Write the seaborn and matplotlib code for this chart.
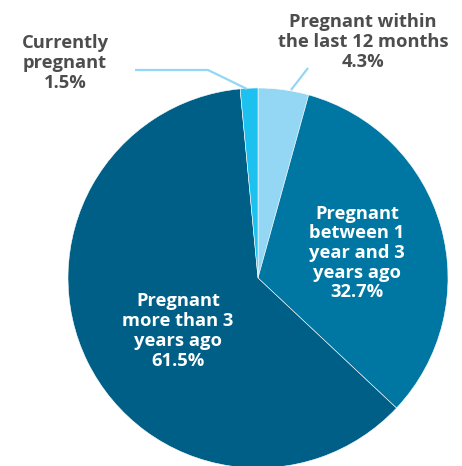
import matplotlib
matplotlib.use("Agg")
import matplotlib.pyplot as plt
import seaborn as sns

# --- Data ---
labels = [
    "Pregnant within\nthe last 12 months",
    "Pregnant\nbetween 1\nyear and 3\nyears ago",
    "Pregnant\nmore than 3\nyears ago",
    "Currently\npregnant",
]
shares = [4.3, 32.7, 61.5, 1.5]
colors = ["#93D7F5", "#0077A2", "#005F86", "#1CC1EF"]

W, H = 462, 466
sns.set_theme(style="white")
plt.rcParams["font.family"] = ["Open Sans", "DejaVu Sans"]

fig = plt.figure(figsize=(W / 100, H / 100), dpi=100)
ax = fig.add_axes([0, 0, 1, 1])

# pixel-style coordinates (y measured from top)
cx, cy, r = 258, 278, 190
ax.pie(
    shares,
    colors=colors,
    startangle=90,
    counterclock=False,
    center=(cx, H - cy),
    radius=r,
    frame=True,
    wedgeprops={"edgecolor": "white", "linewidth": 0.4},
)
ax.set_xlim(0, W)
ax.set_ylim(0, H)
ax.set_aspect("equal")
ax.axis("off")

grey = "#4D4D4D"
txt = dict(ha="center", va="center", fontsize=13.2, fontweight="bold",
           linespacing=1.12)

# inside labels
ax.text(357, H - 253, f"{labels[1]}\n{shares[1]}%", color="white", **txt)
ax.text(178, H - 331, f"{labels[2]}\n{shares[2]}%", color="white", **txt)

# outside labels
ax.text(363, H - 42, f"{labels[0]}\n{shares[0]}%", color=grey, **txt)
ax.text(65, H - 63, f"{labels[3]}\n{shares[3]}%", color=grey, **txt)

# leader lines
line_color = "#93D7F5"
ax.plot([135, 208, 247], [H - 70, H - 70, H - 89], color=line_color, lw=1.6,
        solid_capstyle="butt")
ax.plot([308, 291], [H - 68, H - 90], color=line_color, lw=1.6,
        solid_capstyle="butt")

fig.savefig("out.png", dpi=100)
